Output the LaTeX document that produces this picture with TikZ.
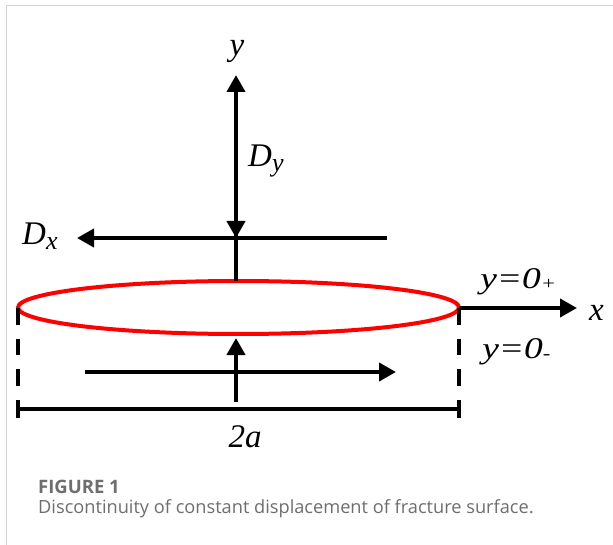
\documentclass[tikz,border=0pt]{standalone}
\usepackage{fontspec}
\setmainfont{Liberation Serif}
\newfontfamily\capfont{Open Sans}
\usetikzlibrary{arrows.meta,shapes.geometric}
\definecolor{framegray}{HTML}{D2D2D2}
\definecolor{capgray}{HTML}{6E6E6E}
\begin{document}
\begin{tikzpicture}[x=1pt,y=-1pt,
  thick line/.style={line width=4pt},
  arrowline/.style={line width=4pt,-{Triangle[width=18pt,length=17pt]}},
  lbl/.style={font=\fontsize{33}{33}\selectfont\itshape,inner sep=0pt,anchor=base west},
  zlbl/.style={font=\fontsize{30}{30}\selectfont\itshape,inner sep=0pt,anchor=base west,xscale=1.25},
  dashline/.style={line width=4pt,dash pattern=on 16.5pt off 14pt},
  caption/.style={font=\capfont\fontsize{18.2}{18.2}\selectfont,text=capgray,inner sep=0pt,anchor=base west}]
\useasboundingbox (0,0) rectangle (613,545);
\fill[white] (0,0) rectangle (613,545);
% frame
\draw[framegray,line width=1pt] (6.5,545) -- (6.5,5.5) -- (613,5.5);
% crack ellipse
\node (crack) [draw=red,line width=4pt,ellipse,minimum width=441pt,minimum height=53pt,inner sep=0pt] at (238.5,307.5) {};
% coordinates
\coordinate (ybase) at (236,281);
\coordinate (ytip) at (236,75);
\coordinate (dystart) at (236,150);
\coordinate (dytip) at (236,238);
\coordinate (dxstart) at (387,238);
\coordinate (dxtip) at (77,238);
\coordinate (xbase) at (459,308);
\coordinate (xtip) at (577,308);
\coordinate (lt) at (18,308);
\coordinate (lb) at (18,392);
\coordinate (rt) at (459,308);
\coordinate (rb) at (459,392);
\coordinate (dl) at (18,409);
\coordinate (dr) at (459,409);
\coordinate (upbase) at (236,402);
\coordinate (uptip) at (236,338);
\coordinate (rtbase) at (85,372);
\coordinate (rttip) at (396,372);
% y axis and Dy
\draw[arrowline] (ybase) -- (ytip);
\draw[arrowline] (dystart) -- (dytip);
% Dx
\draw[arrowline] (dxstart) -- (dxtip);
% x axis
\draw[arrowline] (xbase) -- (xtip);
% dashed sides
\draw[dashline] (lt) -- (lb);
\draw[dashline] (rt) -- (rb);
% dimension 2a
\draw[thick line] (dl) -- (dr);
\draw[thick line] ([yshift=-9pt]dl) -- ([yshift=9pt]dl);
\draw[thick line] ([yshift=-9pt]dr) -- ([yshift=9pt]dr);
% lower arrows
\draw[arrowline] (upbase) -- (uptip);
\draw[arrowline] (rtbase) -- (rttip);
% labels
\node (ylab) [lbl,anchor=base] at (237,56) {y};
\node (dylab) [lbl] at (248,167) {D{\fontsize{26}{26}\selectfont\raisebox{-5pt}{y}}};
\node (dxlab) [lbl] at (22,245) {D{\fontsize{26}{26}\selectfont\raisebox{-5pt}{x}}};
\node (xlab) [lbl] at (589,320) {x};
\node (yplus) [zlbl] at (480,289) {y=0{\fontsize{18}{18}\selectfont\raisebox{-1pt}{+}}};
\node (yminus) [zlbl] at (482,358) {y=0{\fontsize{18}{18}\selectfont\raisebox{-1pt}{-}}};
\node (twoa) [lbl,anchor=base] at (245,447) {2a};
% caption
\node (fig) [caption,font=\capfont\bfseries\fontsize{18.5}{18.5}\selectfont] at (38,493) {FIGURE 1};
\node (cap) [caption] at (38,513) {Discontinuity of constant displacement of fracture surface.};
\end{tikzpicture}
\end{document}
